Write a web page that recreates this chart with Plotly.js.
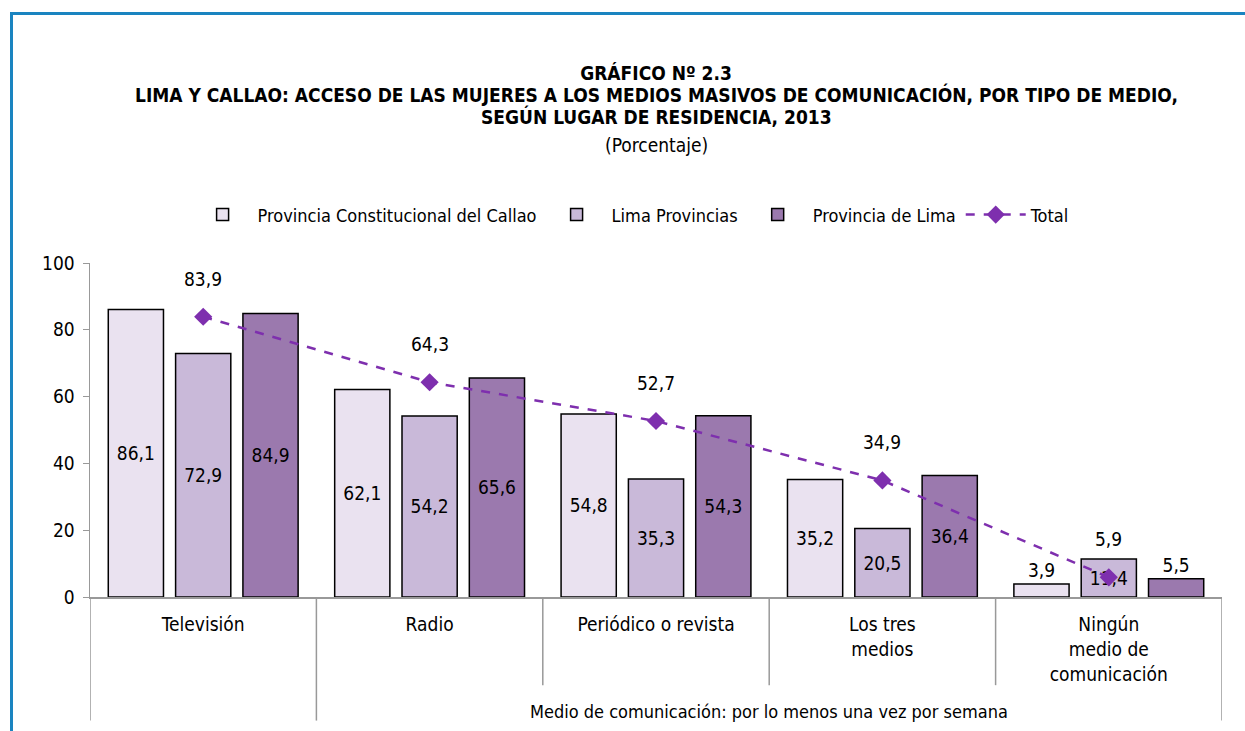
<!DOCTYPE html>
<html>
<head>
<meta charset="utf-8">
<script src="https://cdn.plot.ly/plotly-3.0.1.min.js"></script>
<style>
html,body{margin:0;padding:0;overflow:hidden;background:#fff;}
#chart{width:1245px;height:731px;}
#frame{position:absolute;left:10px;top:12px;width:1400px;height:900px;border-left:3px solid #1a84c0;border-top:3px solid #1a84c0;pointer-events:none;}
</style>
</head>
<body>
<div id="chart"></div>
<div id="frame"></div>
<script>
const categories = ["Televisión", "Radio", "Periódico o revista", "Los tres<br>medios", "Ningún<br>medio de<br>comunicación"];
const seriesNames = ["Provincia Constitucional del Callao", "Lima Provincias", "Provincia de Lima", "Total"];
const callao = [86.1, 62.1, 54.8, 35.2, 3.9];
const limaProvincias = [72.9, 54.2, 35.3, 20.5, 11.4];
const provinciaLima = [84.9, 65.6, 54.3, 36.4, 5.5];
const total = [83.9, 64.3, 52.7, 34.9, 5.9];
const yTicks = [0, 20, 40, 60, 80, 100];
const outerGroupLabel = "Medio de comunicación: por lo menos una vez por semana";
const titleLines = ["GRÁFICO Nº 2.3",
  "LIMA Y CALLAO: ACCESO DE LAS MUJERES A LOS MEDIOS MASIVOS DE COMUNICACIÓN, POR TIPO DE MEDIO,",
  "SEGÚN LUGAR DE RESIDENCIA, 2013",
  "(Porcentaje)"];

const FONT = '"Liberation Sans Narrow", "Arial Narrow", "DejaVu Sans Condensed", sans-serif';
const colors = ["#EAE2F0", "#C9B9D9", "#9B79AE"];
const lineColor = "#7E2FAE";

const fmt = v => v.toFixed(1).replace('.', ',');
const pos = arr => arr.map(v => v < 10 ? 'outside' : 'inside');

function barTrace(name, vals, color) {
  return {
    type: 'bar', name: name, x: categories, y: vals,
    marker: {color: color, line: {color: '#000', width: 1.5}},
    text: vals.map(fmt), textposition: pos(vals), insidetextanchor: 'middle',
    textfont: {family: FONT, size: 19, color: '#000'},
    insidetextfont: {family: FONT, size: 19, color: '#000'},
    outsidetextfont: {family: FONT, size: 19, color: '#000'},
    constraintext: 'none', cliponaxis: false, hoverinfo: 'skip'
  };
}

const data = [
  barTrace(seriesNames[0], callao, colors[0]),
  barTrace(seriesNames[1], limaProvincias, colors[1]),
  barTrace(seriesNames[2], provinciaLima, colors[2]),
  {
    type: 'scatter', mode: 'lines+markers', name: seriesNames[3], x: categories, y: total,
    line: {color: lineColor, width: 2.5, dash: 'dash'},
    marker: {symbol: 'diamond', size: 14, color: lineColor},
    cliponaxis: false, hoverinfo: 'skip'
  }
];

const annotations = total.map((v, i) => ({
  x: categories[i], y: v, xref: 'x', yref: 'y', text: fmt(v), showarrow: false,
  yshift: 38, font: {family: FONT, size: 19, color: '#000'}
}));
annotations.push({
  x: 2.5, y: -0.344, xref: 'x', yref: 'paper', text: outerGroupLabel, showarrow: false,
  font: {family: FONT, size: 18, color: '#000'}, yanchor: 'middle'
});
const titleY = [94, 116, 145];
titleLines.slice(1).forEach((t, i) => {
  annotations.push({
    x: 0.5, xref: 'paper', y: (597 - titleY[i]) / 334, yref: 'paper', yanchor: 'middle',
    text: i < 2 ? '<b>' + t + '</b>' : t, showarrow: false,
    font: {family: FONT, size: 19, color: '#000'}
  });
});

const shapes = [];
[-0.5, 0.5, 4.5].forEach(x => shapes.push({type: 'line', xref: 'x', yref: 'paper', x0: x, x1: x, y0: 0, y1: -0.37, line: {color: '#999', width: 1.5}}));
[1.5, 2.5, 3.5].forEach(x => shapes.push({type: 'line', xref: 'x', yref: 'paper', x0: x, x1: x, y0: 0, y1: -0.264, line: {color: '#999', width: 1.5}}));

const layout = {
  width: 1245, height: 731,
  margin: {l: 90, r: 23, t: 263, b: 134},
  paper_bgcolor: '#fff', plot_bgcolor: '#fff',
  font: {family: FONT, size: 19, color: '#000'},
  title: {text: '<b>' + titleLines[0] + '</b>', x: 0.5, xref: 'paper', y: 1 - 73 / 731, yref: 'container', yanchor: 'middle',
    font: {family: FONT, size: 19, color: '#000'}},
  barmode: 'group', bargap: 0.108, bargroupgap: 0.18,
  showlegend: true,
  legend: {orientation: 'h', x: 0.478, xanchor: 'center', y: 1.144, yanchor: 'middle',
    font: {family: FONT, size: 18, color: '#000'}, traceorder: 'normal', itemwidth: 60},
  xaxis: {type: 'category', showline: true, linecolor: '#999', linewidth: 1.5, ticks: '', showgrid: false,
    tickfont: {family: FONT, size: 19, color: '#000'}, ticklabelstandoff: 10, range: [-0.5, 4.5], fixedrange: true},
  yaxis: {range: [0, 100], tickvals: yTicks, ticktext: yTicks.map(String), showline: true, linecolor: '#999', linewidth: 1.5,
    ticks: 'outside', ticklen: 6, tickcolor: '#999', showgrid: false, zeroline: false,
    tickfont: {family: FONT, size: 19, color: '#000'}, ticklabelstandoff: 4},
  annotations: annotations,
  shapes: shapes
};

Plotly.newPlot('chart', data, layout, {displayModeBar: false, staticPlot: true});
</script>
</body>
</html>
